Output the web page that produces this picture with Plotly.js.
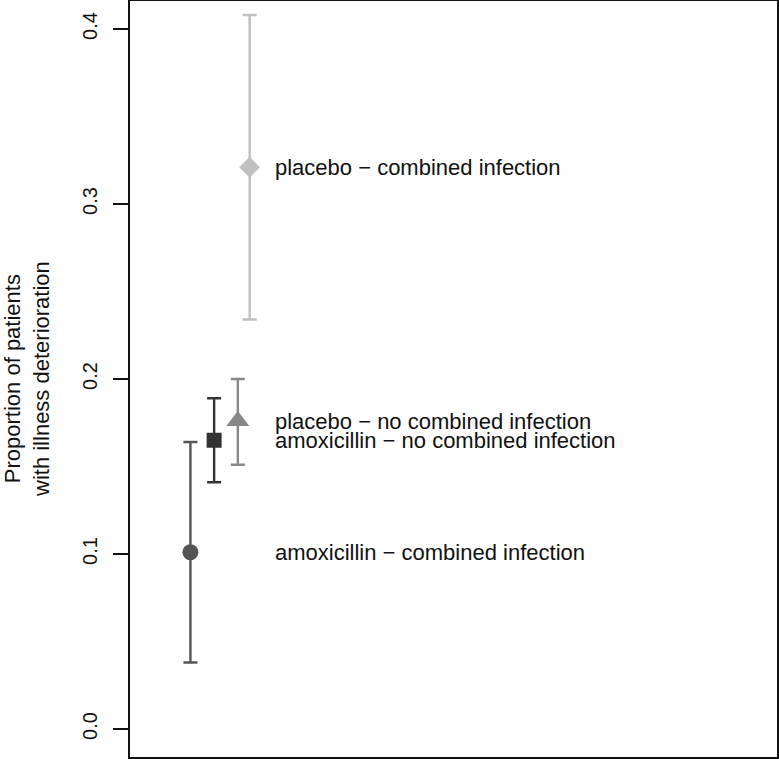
<!DOCTYPE html>
<html>
<head>
<meta charset="utf-8">
<script src="https://cdn.plot.ly/plotly-3.0.1.min.js"></script>
<style>
  html, body { margin: 0; padding: 0; background: #ffffff; }
  #chart { width: 779px; height: 759px; }
</style>
</head>
<body>
<div id="chart"></div>
<script>
// Groups, estimates and 95% interval bounds
const groups = [
    'amoxicillin − combined infection',
    'amoxicillin − no combined infection',
    'placebo − no combined infection',
    'placebo − combined infection'
];
const xPos = [1.0, 1.2, 1.4, 1.5];
const proportion = [0.101, 0.165, 0.176, 0.321];
const lower = [0.038, 0.141, 0.151, 0.234];
const upper = [0.164, 0.189, 0.200, 0.408];
const yTicks = [0.0, 0.1, 0.2, 0.3, 0.4];
const yTickText = ['0.0', '0.1', '0.2', '0.3', '0.4'];

const symbols = ['circle', 'square', 'triangle-up', 'diamond'];
const colors = ['#555555', '#333333', '#888888', '#c0c0c0'];
const sizes = [16, 15, 20, 16];

const FONT = 'Liberation Sans, Arial, sans-serif';
const labelX = 1.695;

function plotChart() {
    const traces = groups.map((g, i) => ({
        x: [xPos[i]],
        y: [proportion[i]],
        type: 'scatter',
        mode: 'markers',
        name: g,
        marker: { symbol: symbols[i], color: colors[i], size: sizes[i], line: { width: 0 } },
        error_y: {
            type: 'data',
            symmetric: false,
            array: [upper[i] - proportion[i]],
            arrayminus: [proportion[i] - lower[i]],
            color: colors[i],
            thickness: 2.4,
            width: 7
        },
        hoverinfo: 'skip'
    }));

    const annotations = groups.map((g, i) => ({
        x: labelX,
        y: proportion[i],
        xref: 'x',
        yref: 'y',
        text: g,
        showarrow: false,
        xanchor: 'left',
        yanchor: 'middle',
        font: { family: FONT, size: 22, color: '#111111' }
    }));

    // two-line y axis title, placed by hand like R's mtext
    annotations.push({
        x: 0,
        y: 0.5,
        xref: 'paper',
        yref: 'paper',
        xshift: -103,
        text: 'Proportion of patients<br>with illness deterioration',
        textangle: -90,
        showarrow: false,
        xanchor: 'center',
        yanchor: 'middle',
        font: { family: FONT, size: 22, color: '#111111' }
    });

    const layout = {
        width: 779,
        height: 759,
        margin: { l: 130, r: 2, t: 1, b: 2 },
        paper_bgcolor: '#ffffff',
        plot_bgcolor: '#ffffff',
        showlegend: false,
        font: { family: FONT, color: '#111111' },
        xaxis: {
            range: [0.49, 5.95],
            showgrid: false,
            zeroline: false,
            showticklabels: false,
            ticks: '',
            showline: true,
            mirror: true,
            linecolor: '#111111',
            linewidth: 2
        },
        yaxis: {
            range: [-0.016, 0.416],
            tickvals: yTicks,
            ticktext: yTickText,
            tickangle: -90,
            ticks: 'outside',
            ticklen: 15,
            tickwidth: 2,
            tickcolor: '#111111',
            tickfont: { family: FONT, size: 20, color: '#111111' },
            ticklabelstandoff: 8,
            showgrid: false,
            zeroline: false,
            showline: true,
            mirror: true,
            linecolor: '#111111',
            linewidth: 2
        },
        annotations: annotations
    };

    Plotly.newPlot('chart', traces, layout, { displayModeBar: false, staticPlot: true });
}

plotChart();
</script>
</body>
</html>
